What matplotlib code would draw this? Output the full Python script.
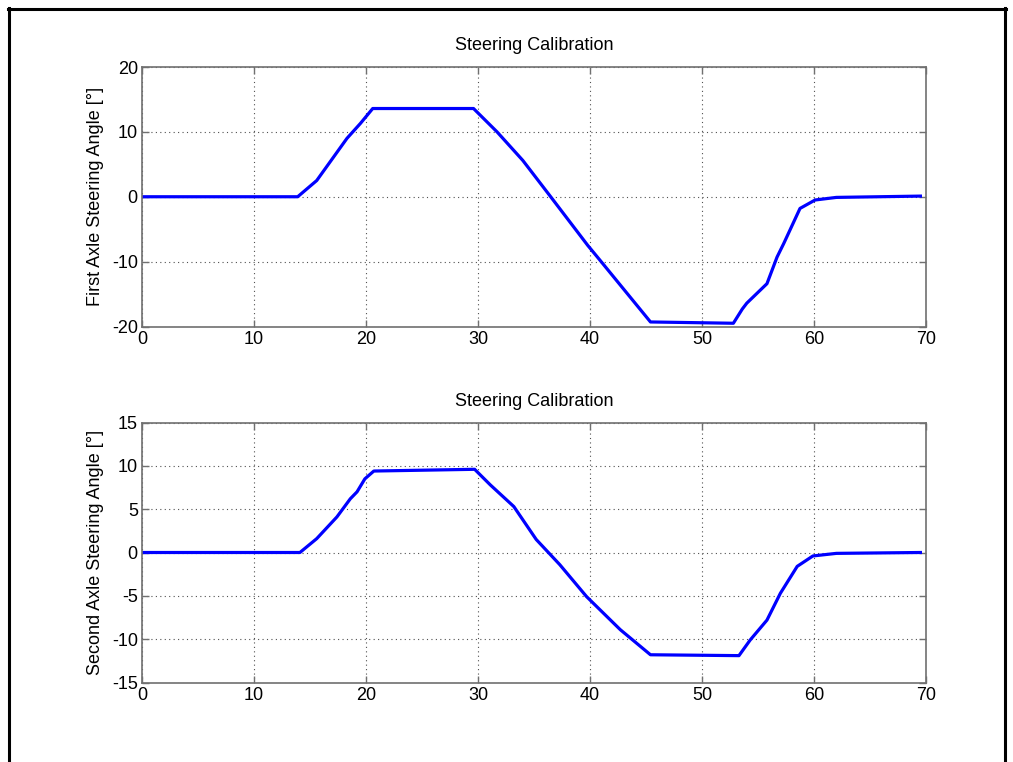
import matplotlib
matplotlib.use("Agg")
import matplotlib.pyplot as plt
from matplotlib.lines import Line2D

plt.rcParams['font.family'] = ['Liberation Sans', 'DejaVu Sans']
plt.rcParams['axes.unicode_minus'] = False

# Time [s] and steering angles [deg] at the corners of each manoeuvre phase
t_first = [0, 13.9, 15.6, 18.3, 19.5, 20.6, 29.6, 31.7, 34.0, 36.4, 39.8, 40.9,
           45.4, 52.8, 53.6, 54.0, 55.8, 56.7, 57.3, 58.75, 60.1, 62.0, 69.5]
angle_first = [0.0, 0.0, 2.5, 9.0, 11.3, 13.6, 13.6, 10.0, 5.6, 0.2, -7.5, -9.8,
               -19.3, -19.5, -17.3, -16.4, -13.4, -9.3, -7.2, -1.8, -0.5, -0.1, 0.1]

t_second = [0, 14.1, 15.6, 17.4, 18.6, 19.2, 19.9, 20.7, 29.7, 31.1, 33.2, 35.2,
            37.3, 39.7, 42.7, 45.4, 53.3, 54.3, 55.8, 57.0, 58.5, 59.9, 62.0, 69.5]
angle_second = [0.0, 0.0, 1.6, 4.1, 6.2, 7.0, 8.5, 9.4, 9.6, 7.8, 5.3, 1.5,
                -1.4, -5.1, -8.9, -11.8, -11.9, -10.1, -7.8, -4.7, -1.6, -0.4, -0.1, 0.0]

x_ticks = [0, 10, 20, 30, 40, 50, 60, 70]
y_ticks_first = [-20, -10, 0, 10, 20]
y_ticks_second = [-15, -10, -5, 0, 5, 10, 15]

title = "Steering Calibration"
ylabel_first = "First Axle Steering Angle [°]"
ylabel_second = "Second Axle Steering Angle [°]"

W, H = 1013, 762
fig = plt.figure(figsize=(W / 100, H / 100), dpi=100)
fig.patch.set_facecolor('white')


def px_axes(left, top, right, bottom):
    return fig.add_axes([left / W, 1 - bottom / H, (right - left) / W, (bottom - top) / H])


ax1 = px_axes(142, 67, 926, 326.5)
ax2 = px_axes(142, 422.5, 926, 682.5)

panels = [
    (ax1, t_first, angle_first, y_ticks_first, ylabel_first),
    (ax2, t_second, angle_second, y_ticks_second, ylabel_second),
]

for ax, t, a, yt, yl in panels:
    ax.plot(t, a, color='#0000ff', linewidth=2.3, solid_joinstyle='round')
    ax.set_xlim(x_ticks[0], x_ticks[-1])
    ax.set_ylim(yt[0], yt[-1])
    ax.set_xticks(x_ticks)
    ax.set_yticks(yt)
    ax.tick_params(direction='in', length=5, width=1, color='#707070',
                   top=True, right=True, labelsize=13, labelcolor='black', pad=3)
    for s in ax.spines.values():
        s.set_color('#707070')
        s.set_linewidth(1.2)
    ax.grid(True, linestyle=(0, (1, 3)), color='#505050', linewidth=0.8)
    ax.set_axisbelow(True)
    ax.set_title(title, fontsize=13, pad=12)
    ax.set_ylabel(yl, fontsize=13, labelpad=6)

# black frame around the figure
fig.add_artist(Line2D([8 / W, 1006 / W], [1 - 8.5 / H, 1 - 8.5 / H], color='black', linewidth=2.2,
                      transform=fig.transFigure))
fig.add_artist(Line2D([8.5 / W, 8.5 / W], [1 - 8 / H, 0], color='black', linewidth=2.2,
                      transform=fig.transFigure))
fig.add_artist(Line2D([1005 / W, 1005 / W], [1 - 8 / H, 0], color='black', linewidth=2.2,
                      transform=fig.transFigure))

fig.savefig("out.png", dpi=100)
